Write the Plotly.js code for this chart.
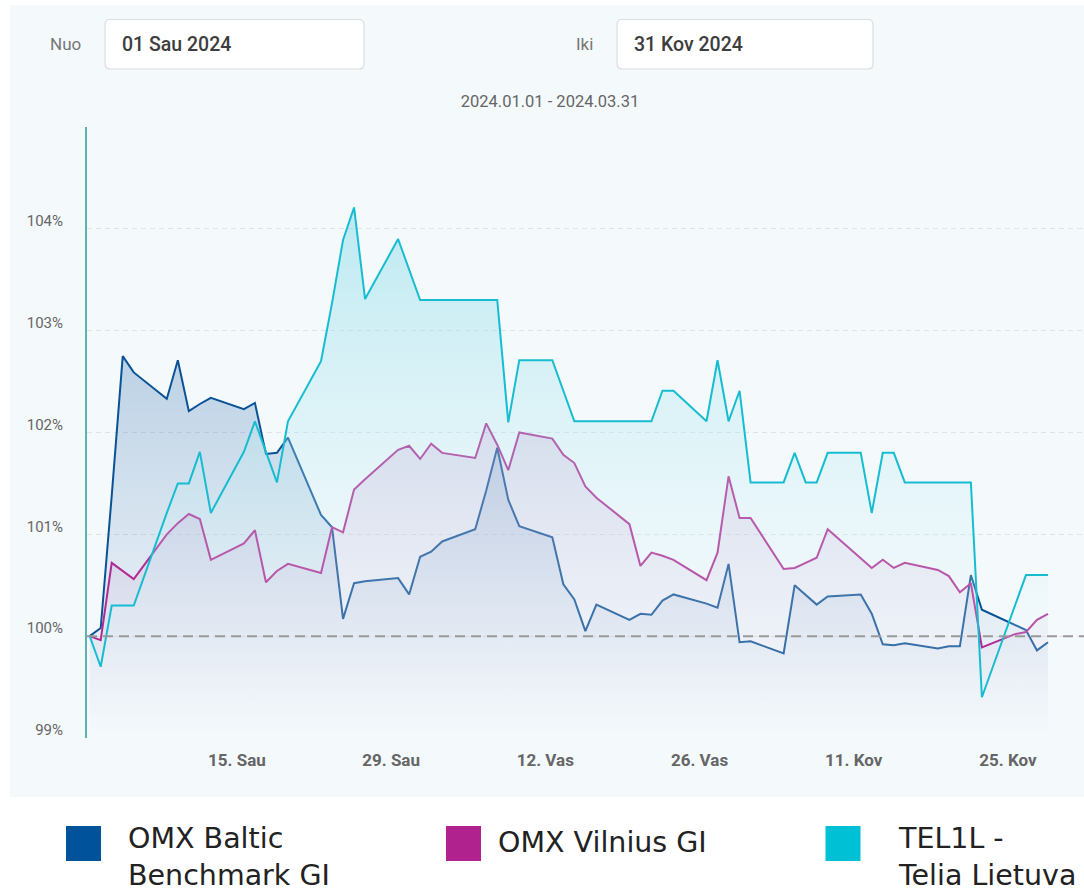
<!DOCTYPE html>
<html>
<head>
<meta charset="utf-8">
<script src="https://cdn.plot.ly/plotly-3.0.1.min.js"></script>
<style>
  html, body { margin: 0; padding: 0; background: #ffffff; }
  #chart { width: 1084px; height: 895px; }
</style>
</head>
<body>
<div id="chart"></div>
<script>
// ---- data ----
const dates = [
  '2024-01-01','2024-01-02','2024-01-03','2024-01-04','2024-01-05',
  '2024-01-08','2024-01-09','2024-01-10','2024-01-11','2024-01-12',
  '2024-01-15','2024-01-16','2024-01-17','2024-01-18','2024-01-19',
  '2024-01-22','2024-01-23','2024-01-24','2024-01-25','2024-01-26',
  '2024-01-29','2024-01-30','2024-01-31','2024-02-01','2024-02-02',
  '2024-02-05','2024-02-06','2024-02-07','2024-02-08','2024-02-09',
  '2024-02-12','2024-02-13','2024-02-14','2024-02-15','2024-02-16',
  '2024-02-19','2024-02-20','2024-02-21','2024-02-22','2024-02-23',
  '2024-02-26','2024-02-27','2024-02-28','2024-02-29','2024-03-01',
  '2024-03-04','2024-03-05','2024-03-06','2024-03-07','2024-03-08',
  '2024-03-11','2024-03-12','2024-03-13','2024-03-14','2024-03-15',
  '2024-03-18','2024-03-19','2024-03-20','2024-03-21','2024-03-22',
  '2024-03-25','2024-03-26','2024-03-27','2024-03-28'
];

const omxBaltic = [
  100.00, 100.08, 101.38, 102.75, 102.59,
  102.33, 102.71, 102.21, 102.28, 102.34,
  102.23, 102.29, 101.79, 101.80, 101.95,
  101.19, 101.07, 100.17, 100.52, 100.54,
  100.57, 100.41, 100.78, 100.83, 100.93,
  101.05, 101.43, 101.85, 101.34, 101.08,
  100.97, 100.51, 100.36, 100.05, 100.31,
  100.16, 100.22, 100.21, 100.35, 100.41,
  100.32, 100.28, 100.71, 99.94, 99.95,
  99.83, 100.50, 100.40, 100.31, 100.39,
  100.41, 100.22, 99.92, 99.91, 99.93,
  99.88, 99.90, 99.90, 100.60, 100.26,
  100.11, 100.06, 99.86, 99.94
];

const omxVilnius = [
  100.00, 99.96, 100.72, 100.64, 100.56,
  101.00, 101.11, 101.20, 101.15, 100.75,
  100.91, 101.04, 100.53, 100.64, 100.71,
  100.62, 101.07, 101.02, 101.44, 101.54,
  101.83, 101.87, 101.74, 101.89, 101.80,
  101.75, 102.09, 101.88, 101.63, 102.00,
  101.94, 101.78, 101.70, 101.47, 101.36,
  101.10, 100.69, 100.82, 100.79, 100.75,
  100.55, 100.82, 101.57, 101.16, 101.16,
  100.66, 100.67, 100.72, 100.77, 101.05,
  100.76, 100.67, 100.75, 100.67, 100.72,
  100.65, 100.59, 100.43, 100.52, 99.89,
  100.02, 100.04, 100.16, 100.22
];

const tel1l = [
  100.00, 99.70, 100.30, 100.30, 100.30,
  101.21, 101.50, 101.50, 101.81, 101.21,
  101.81, 102.11, 101.82, 101.51, 102.11,
  102.70, 103.27, 103.89, 104.21, 103.31,
  103.90, 103.60, 103.30, 103.30, 103.30,
  103.30, 103.30, 103.30, 102.10, 102.71,
  102.71, 102.42, 102.11, 102.11, 102.11,
  102.11, 102.11, 102.11, 102.41, 102.41,
  102.11, 102.71, 102.11, 102.41, 101.51,
  101.51, 101.80, 101.51, 101.51, 101.80,
  101.80, 101.21, 101.80, 101.80, 101.51,
  101.51, 101.51, 101.51, 101.51, 99.40,
  100.30, 100.60, 100.60, 100.60
];

const seriesNames = ['OMX Baltic Benchmark GI', 'OMX Vilnius GI', 'TEL1L - Telia Lietuva'];
const legendLines = [['OMX Baltic', 'Benchmark GI'], ['OMX Vilnius GI'], ['TEL1L -', 'Telia Lietuva']];
const yTickVals = [99, 100, 101, 102, 103, 104, 105];
const yTickText = ['99%', '100%', '101%', '102%', '103%', '104%', ''];
const xTickVals = ['2024-01-15', '2024-01-29', '2024-02-12', '2024-02-26', '2024-03-11', '2024-03-25'];
const xTickText = ['15. Sau', '29. Sau', '12. Vas', '26. Vas', '11. Kov', '25. Kov'];
const titleText = '2024.01.01 - 2024.03.31';
const fromLabel = 'Nuo', fromValue = '01 Sau 2024';
const toLabel = 'Iki', toValue = '31 Kov 2024';

// ---- geometry helpers (pixels -> paper) ----
const W = 1084, H = 895, ML = 87, MT = 127, MB = 157, MR = 0;
const PW = W - ML - MR, PH = H - MT - MB;
const px = x => (x - ML) / PW;
const py = y => (MT + PH - y) / PH;
function rrect(x0, y0, x1, y1, r) {
  const X = px, Y = py;
  return `M${X(x0 + r)},${Y(y0)} L${X(x1 - r)},${Y(y0)} Q${X(x1)},${Y(y0)} ${X(x1)},${Y(y0 + r)} ` +
         `L${X(x1)},${Y(y1 - r)} Q${X(x1)},${Y(y1)} ${X(x1 - r)},${Y(y1)} ` +
         `L${X(x0 + r)},${Y(y1)} Q${X(x0)},${Y(y1)} ${X(x0)},${Y(y1 - r)} ` +
         `L${X(x0)},${Y(y0 + r)} Q${X(x0)},${Y(y0)} ${X(x0 + r)},${Y(y0)} Z`;
}

const legendColors = ['#00529b', '#b0228e', '#00c0d5'];
const lineColors = ['#0a5296', '#b02a93', '#16bdd1'];
const fillTop = ['rgba(20,90,160,0.25)', 'rgba(160,50,150,0.16)', 'rgba(120,214,228,0.45)'];
const fillBottom = ['rgba(60,110,170,0.0)', 'rgba(150,90,170,0.0)', 'rgba(255,255,255,0.12)'];

const allSeries = [omxBaltic, omxVilnius, tel1l];
const traces = allSeries.map((vals, i) => ({
  type: 'scatter',
  mode: 'lines',
  name: seriesNames[i],
  x: dates,
  y: vals,
  line: { color: lineColors[i], width: 2 },
  fill: 'tozeroy',
  fillgradient: {
    type: 'vertical',
    start: 99,
    stop: Math.max(...vals),
    colorscale: [[0, fillBottom[i]], [1, fillTop[i]]]
  },
  hoverinfo: 'skip',
  showlegend: false
}));

const shapes = [
  // chart panel background
  { type: 'rect', xref: 'paper', yref: 'paper', x0: px(10), x1: px(1084), y0: py(797), y1: py(5),
    fillcolor: '#f4f9fc', line: { width: 0 }, layer: 'below' },
  // date input boxes
  { type: 'path', xref: 'paper', yref: 'paper', path: rrect(105, 19.5, 364, 69, 5),
    fillcolor: '#ffffff', line: { color: '#d8dee3', width: 1.2 }, layer: 'below' },
  { type: 'path', xref: 'paper', yref: 'paper', path: rrect(617, 19.5, 873, 69, 5),
    fillcolor: '#ffffff', line: { color: '#d8dee3', width: 1.2 }, layer: 'below' },
  // 100% reference line
  { type: 'line', xref: 'paper', yref: 'y', x0: 0, x1: 1, y0: 100, y1: 100,
    line: { color: '#999999', width: 2, dash: '10px,6px' }, layer: 'above' }
];
// legend squares
const legendX = [66, 446, 825.5];
legendX.forEach((x, i) => {
  shapes.push({ type: 'rect', xref: 'paper', yref: 'paper', x0: px(x), x1: px(x + 35),
    y0: py(861), y1: py(826), fillcolor: legendColors[i], line: { width: 0 } });
});

const annotations = [];
const ann = (text, x, y, font) => annotations.push({
  text, xref: 'paper', yref: 'paper', x: px(x), y: py(y), xanchor: 'left', yanchor: 'middle',
  align: 'left', showarrow: false, font, borderpad: 0
});
const labelFont = { family: 'Roboto, Arial, sans-serif', size: 17, color: '#777777' };
const valueFont = { family: 'Roboto, Arial, sans-serif', size: 19.5, color: '#3d3d3d', weight: 500 };
ann(fromLabel, 48.5, 44.5, labelFont);
ann(fromValue, 121, 44.5, valueFont);
ann(toLabel, 575, 44.5, labelFont);
ann(toValue, 633, 44.5, valueFont);

const legendFont = { family: '"DejaVu Sans", sans-serif', size: 28.5, color: '#222222' };
const legendTextX = [127, 497, 897];
legendLines.forEach((lines, i) => {
  ann(lines.join('<br>'), legendTextX[i], lines.length > 1 ? 857 : 843, legendFont);
});

const layout = {
  width: W, height: H,
  margin: { l: ML, r: MR, t: MT, b: MB, pad: 0 },
  paper_bgcolor: '#ffffff',
  plot_bgcolor: 'rgba(0,0,0,0)',
  showlegend: false,
  title: {
    text: titleText,
    xref: 'paper', yref: 'container',
    x: px(550), y: 1 - 101 / H, xanchor: 'center', yanchor: 'middle',
    font: { family: 'Roboto, Arial, sans-serif', size: 16.5, color: '#666666' }
  },
  xaxis: {
    type: 'date',
    range: ['2023-12-31 18:07', '2024-03-31 06:28'],
    tickvals: xTickVals, ticktext: xTickText,
    ticks: '', showgrid: false, zeroline: false, showline: false,
    tickfont: { family: 'Roboto, Arial, sans-serif', size: 17, color: '#666666', weight: 'bold' },
    ticklabelshift: -7,
    ticklabelstandoff: 10,
    fixedrange: true
  },
  yaxis: {
    range: [99, 105],
    tickvals: yTickVals, ticktext: yTickText,
    ticks: '', zeroline: false,
    showgrid: true, gridcolor: '#dde3e8', gridwidth: 1, griddash: '5px,4px',
    showline: true, linecolor: '#5fb0b2', linewidth: 2,
    tickfont: { family: 'Roboto, Arial, sans-serif', size: 15, color: '#666666' },
    ticklabelshift: -8,
    ticklabelstandoff: 19,
    fixedrange: true
  },
  shapes, annotations
};

Plotly.newPlot('chart', traces, layout, { displayModeBar: false, staticPlot: true });
</script>
</body>
</html>
